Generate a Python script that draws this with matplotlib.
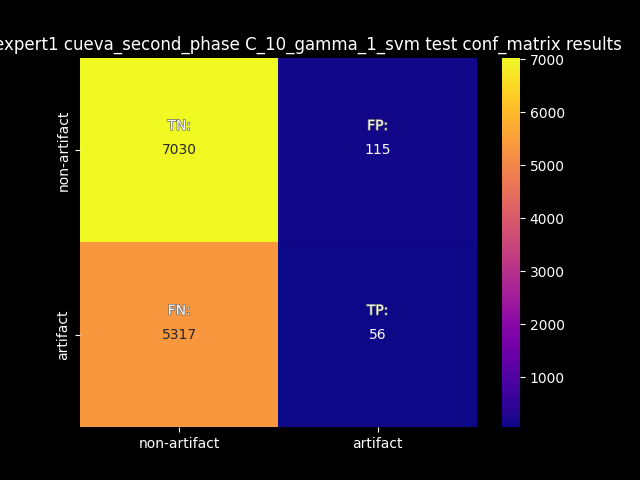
import matplotlib
matplotlib.use("Agg")
import matplotlib.pyplot as plt
import matplotlib.patheffects as pe
import seaborn as sns
import numpy as np

plt.style.use("dark_background")
values = np.array([[7030, 115], [5317, 56]])
labels = [["TN:", "FP:"], ["FN:", "TP:"]]
ticklabels = ["non-artifact", "artifact"]

fig, ax = plt.subplots(figsize=(6.4, 4.8), dpi=100)
sns.heatmap(values, annot=True, fmt="d", cmap="plasma", ax=ax,
            xticklabels=ticklabels, yticklabels=ticklabels)
for i in range(2):
    for j in range(2):
        ax.text(j + 0.5, i + 0.37, labels[i][j], ha="center", va="center",
                color="white", fontsize=10,
                path_effects=[pe.withStroke(linewidth=1.0, foreground="#666666")])
ax.set_title("expert1 cueva_second_phase C_10_gamma_1_svm test conf_matrix results", x=0.575)
fig.savefig("out.png")
